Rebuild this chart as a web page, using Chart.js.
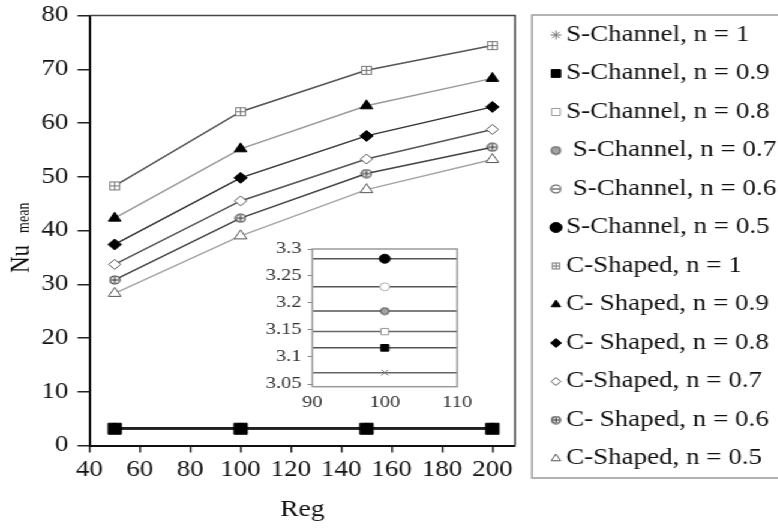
<!DOCTYPE html>
<html>
<head>
<meta charset="utf-8">
<script src="https://cdn.jsdelivr.net/npm/chart.js@4.4.1/dist/chart.umd.min.js"></script>
<style>
  html, body { margin: 0; padding: 0; background: #fff; overflow: hidden; }
  /* the source figure is a bit wider than tall, so the whole drawing is stretched sideways */
  #wrap { position: relative; width: 648px; height: 528px; transform: scaleX(1.2); transform-origin: 0 0; }
  #main { position: absolute; left: 0; top: 0; }
  #inset { position: absolute; left: 195px; top: 230px; }
</style>
</head>
<body>
<div id="wrap">
  <canvas id="main" width="648" height="528"></canvas>
  <canvas id="inset" width="205" height="190"></canvas>
</div>
<script>
const reg = [50, 100, 150, 200]
const regTicks = [40, 60, 80, 100, 120, 140, 160, 180, 200]
const nuTicks = [0, 10, 20, 30, 40, 50, 60, 70, 80]
const insetRegTicks = [90, 100, 110]
const insetNuTicks = [3.05, 3.1, 3.15, 3.2, 3.25, 3.3]

const seriesLabels = [
  'S-Channel, n = 1',
  'S-Channel, n = 0.9',
  'S-Channel, n = 0.8',
  ' S-Channel, n = 0.7',
  ' S-Channel, n = 0.6',
  'S-Channel, n = 0.5',
  'C-Shaped, n = 1',
  'C- Shaped, n = 0.9',
  'C- Shaped, n = 0.8',
  'C-Shaped, n = 0.7',
  'C- Shaped, n = 0.6',
  'C-Shaped, n = 0.5',
]

// Nu mean per Reg (50, 100, 150, 200)
const sChannel10 = [3.071, 3.071, 3.071, 3.071]
const sChannel09 = [3.117, 3.117, 3.117, 3.117]
const sChannel08 = [3.147, 3.147, 3.147, 3.147]
const sChannel07 = [3.185, 3.185, 3.185, 3.185]
const sChannel06 = [3.23, 3.23, 3.23, 3.23]
const sChannel05 = [3.282, 3.282, 3.282, 3.282]
const cShaped10 = [48.3, 62.1, 69.8, 74.4]
const cShaped09 = [42.3, 55.2, 63.2, 68.3]
const cShaped08 = [37.4, 49.8, 57.6, 63.0]
const cShaped07 = [33.7, 45.5, 53.3, 58.8]
const cShaped06 = [30.8, 42.3, 50.6, 55.5]
const cShaped05 = [28.3, 39.0, 47.6, 53.2]

const series = [
  sChannel10, sChannel09, sChannel08, sChannel07, sChannel06, sChannel05,
  cShaped10, cShaped09, cShaped08, cShaped07, cShaped06, cShaped05,
]

const serif = '"Liberation Serif", "Times New Roman", serif'

// small hand drawn markers for the symbols chart.js has no style for
const mark = (size, draw) => {
  const c = document.createElement('canvas')
  c.width = c.height = size
  draw(c.getContext('2d'), size / 2)
  return c
}
const squarePlus = (size, color) => mark(size, (g, h) => {
  g.fillStyle = '#fff'
  g.fillRect(1, 1, size - 2, size - 2)
  g.strokeStyle = color
  g.lineWidth = 1
  g.strokeRect(1.5, 1.5, size - 3, size - 3)
  g.beginPath()
  g.moveTo(h, 1.5); g.lineTo(h, size - 1.5)
  g.moveTo(1.5, h); g.lineTo(size - 1.5, h)
  g.stroke()
})
const circleWith = (size, color, plus) => mark(size, (g, h) => {
  g.fillStyle = '#fff'
  g.strokeStyle = color
  g.lineWidth = 1.2
  g.beginPath(); g.arc(h, h, h - 1, 0, Math.PI * 2); g.fill(); g.stroke()
  g.beginPath()
  g.moveTo(2, h); g.lineTo(size - 2, h)
  if (plus) { g.moveTo(h, 2); g.lineTo(h, size - 2) }
  g.stroke()
})
const hatched = size => mark(size, (g, h) => {
  g.fillStyle = '#8c8c8c'
  g.strokeStyle = '#555'
  g.lineWidth = 1
  g.beginPath(); g.arc(h, h, h - 1, 0, Math.PI * 2); g.fill(); g.stroke()
  g.save()
  g.beginPath(); g.arc(h, h, h - 2, 0, Math.PI * 2); g.clip()
  g.strokeStyle = '#d0d0d0'
  g.beginPath()
  for (let k = -h; k <= h; k += 3) { g.moveTo(h + k - 4, h - 4); g.lineTo(h + k + 4, h + 4) }
  g.stroke()
  g.restore()
})

// look of each series: main plot, inset, legend
const looks = [
  { line: '#222', mark: 'star', insetMark: 'crossRot', fill: 'transparent', edge: '#777', r: 4, insetLine: '#666', insetR: 4, legend: 'star', legendR: 4.5 },
  { line: '#222', mark: 'rect', fill: '#000', edge: '#000', r: 7.8, insetLine: '#555', insetR: 4.7, legend: 'rect', legendR: 5.5 },
  { line: '#222', mark: 'rect', fill: '#fff', edge: '#999', r: 4.5, insetLine: '#666', insetR: 4.5, legend: 'rect', legendR: 5 },
  { line: '#222', mark: hatched(9), fill: '#888', edge: '#555', r: 4, insetLine: '#555', insetR: 4, legend: hatched(10), legendR: 5 },
  { line: '#222', mark: 'circle', fill: '#fff', edge: '#b0b0b0', r: 4, insetLine: '#555', insetR: 4, legend: circleWith(10, '#555', false), legendR: 5 },
  { line: '#222', mark: 'circle', fill: '#000', edge: '#000', r: 4.5, insetLine: '#555', insetR: 4.5, legend: 'circle', legendR: 5 },
  { line: '#555', mark: squarePlus(11, '#777'), fill: '#fff', edge: '#777', r: 5.5, legend: squarePlus(9, '#777'), legendR: 4.5 },
  { line: '#9a9a9a', mark: 'triangle', fill: '#000', edge: '#000', r: 6, legend: 'triangle', legendR: 4.5 },
  { line: '#333', mark: 'rectRot', fill: '#000', edge: '#000', r: 5.5, legend: 'rectRot', legendR: 4.5 },
  { line: '#555', mark: 'rectRot', fill: '#fff', edge: '#555', r: 5, legend: 'rectRot', legendR: 4 },
  { line: '#444', mark: circleWith(10, '#333', true), fill: '#fff', edge: '#333', r: 5, legend: circleWith(9, '#333', true), legendR: 4.5 },
  { line: '#a5a5a5', mark: 'triangle', fill: '#fff', edge: '#555', r: 6, legend: 'triangle', legendR: 4.5 },
]

const toPoints = vals => reg.map((r, i) => ({ x: r, y: vals[i] }))
const fixedTicks = list => scale => { scale.ticks = list.map(v => ({ value: v })) }
const tickFont = size => ({ family: serif, size })

const mainSets = series.map((vals, i) => ({
  label: seriesLabels[i],
  data: toPoints(vals),
  borderColor: looks[i].line,
  borderWidth: 1.5,
  pointStyle: looks[i].mark,
  pointRadius: looks[i].r,
  pointBackgroundColor: looks[i].fill,
  pointBorderColor: looks[i].edge,
  pointBorderWidth: 1,
  order: i === 1 ? -1 : 0, // the big black squares sit on top of the S-Channel bundle
}))

const insetSets = series.slice(0, 6).map((vals, i) => ({
  label: seriesLabels[i],
  data: toPoints(vals),
  borderColor: looks[i].insetLine,
  borderWidth: 1.5,
  pointStyle: looks[i].insetMark || looks[i].mark,
  pointRadius: looks[i].insetR,
  pointBackgroundColor: looks[i].fill,
  pointBorderColor: looks[i].edge,
  pointBorderWidth: 1,
  clip: 0,
}))

const { drawPoint } = Chart.helpers

// top and right edge of the main plot
const mainFrame = {
  id: 'mainFrame',
  afterDatasetsDraw(chart) {
    const { ctx, chartArea: a } = chart
    ctx.save()
    ctx.strokeStyle = '#444'
    ctx.lineWidth = 1.5
    ctx.beginPath()
    ctx.moveTo(a.left, a.top); ctx.lineTo(a.right, a.top); ctx.lineTo(a.right, a.bottom)
    ctx.stroke()
    ctx.restore()
  },
}

// "Nu mean" with the small subscript
const yTitle = {
  id: 'yTitle',
  afterDraw(chart) {
    const { ctx } = chart
    ctx.save()
    ctx.translate(24, 273)
    ctx.rotate(-Math.PI / 2)
    ctx.fillStyle = '#111'
    ctx.textBaseline = 'alphabetic'
    ctx.font = '23px ' + serif
    ctx.fillText('Nu', 0, 0)
    const w = ctx.measureText('Nu').width
    ctx.font = '14px ' + serif
    ctx.fillText('mean', w + 12, 0)
    ctx.restore()
  },
}

// boxed legend on the right
const sideLegend = {
  id: 'sideLegend',
  afterDraw(chart) {
    const { ctx } = chart
    ctx.save()
    ctx.strokeStyle = '#9a9a9a'
    ctx.lineWidth = 1.5
    ctx.strokeRect(443.3, 15, 300, 463)
    ctx.font = '22.5px ' + serif
    ctx.textBaseline = 'middle'
    seriesLabels.forEach((label, i) => {
      const y = 35 + i * 38.5
      const lk = looks[i]
      ctx.fillStyle = lk.fill
      ctx.strokeStyle = lk.edge
      ctx.lineWidth = 1
      drawPoint(ctx, { pointStyle: lk.legend, radius: lk.legendR, rotation: 0, borderWidth: 1 }, 463.3, y)
      ctx.fillStyle = '#111'
      ctx.fillText(label, 471.7, y)
    })
    ctx.restore()
  },
}

new Chart(document.getElementById('main'), {
  type: 'line',
  data: { datasets: mainSets },
  options: {
    responsive: false,
    animation: false,
    layout: { padding: { left: 0, top: 15.5, right: 218.8, bottom: 0 } },
    plugins: { legend: { display: false }, tooltip: { enabled: false } },
    scales: {
      x: {
        type: 'linear',
        min: 40,
        max: 209,
        afterBuildTicks: fixedTicks(regTicks),
        afterFit: s => { s.height = 82.5 },
        grid: { drawOnChartArea: false, tickLength: 7, color: '#222', lineWidth: 1.5 },
        border: { color: '#111', width: 2 },
        ticks: { font: tickFont(22.5), color: '#111', padding: 4, maxRotation: 0 },
        title: { display: true, text: 'Reg', font: tickFont(23), color: '#111', padding: 4 },
      },
      y: {
        min: 0,
        max: 80,
        afterBuildTicks: fixedTicks(nuTicks),
        // fixed axis width; the top label may stick out into the layout padding
        afterFit: s => { s.width = 74.6; s.paddingTop = 0 },
        grid: { drawOnChartArea: false, tickLength: 10, color: '#222', lineWidth: 1.5 },
        border: { color: '#111', width: 2 },
        ticks: { font: tickFont(22.5), color: '#111', padding: 7.5 },
      },
    },
  },
  plugins: [mainFrame, yTitle, sideLegend],
})

// zoom on the S-Channel bundle around Reg = 100
const insetFrame = {
  id: 'insetFrame',
  afterDatasetsDraw(chart) {
    const { ctx, chartArea: a } = chart
    ctx.save()
    ctx.strokeStyle = '#9a9a9a'
    ctx.lineWidth = 1.5
    ctx.strokeRect(a.left, a.top, a.right - a.left, a.bottom - a.top)
    ctx.restore()
  },
}

new Chart(document.getElementById('inset'), {
  type: 'line',
  data: { datasets: insetSets },
  options: {
    responsive: false,
    animation: false,
    layout: { padding: { left: 0, top: 19, right: 19, bottom: 0 } },
    plugins: { legend: { display: false }, tooltip: { enabled: false } },
    scales: {
      x: {
        type: 'linear',
        min: 90,
        max: 110,
        afterBuildTicks: fixedTicks(insetRegTicks),
        afterFit: s => { s.height = 33.3 },
        grid: { drawOnChartArea: false, drawTicks: false },
        border: { display: false },
        ticks: { font: tickFont(17), color: '#333', padding: 6, maxRotation: 0 },
      },
      y: {
        min: 3.045,
        max: 3.3,
        afterBuildTicks: fixedTicks(insetNuTicks),
        afterFit: s => { s.width = 65.3 },
        grid: { drawOnChartArea: false, tickLength: 4, color: '#888' },
        border: { display: false },
        ticks: { font: tickFont(17), color: '#333', padding: 5, callback: v => String(+v.toFixed(2)) },
      },
    },
  },
  plugins: [insetFrame],
})
</script>
</body>
</html>
